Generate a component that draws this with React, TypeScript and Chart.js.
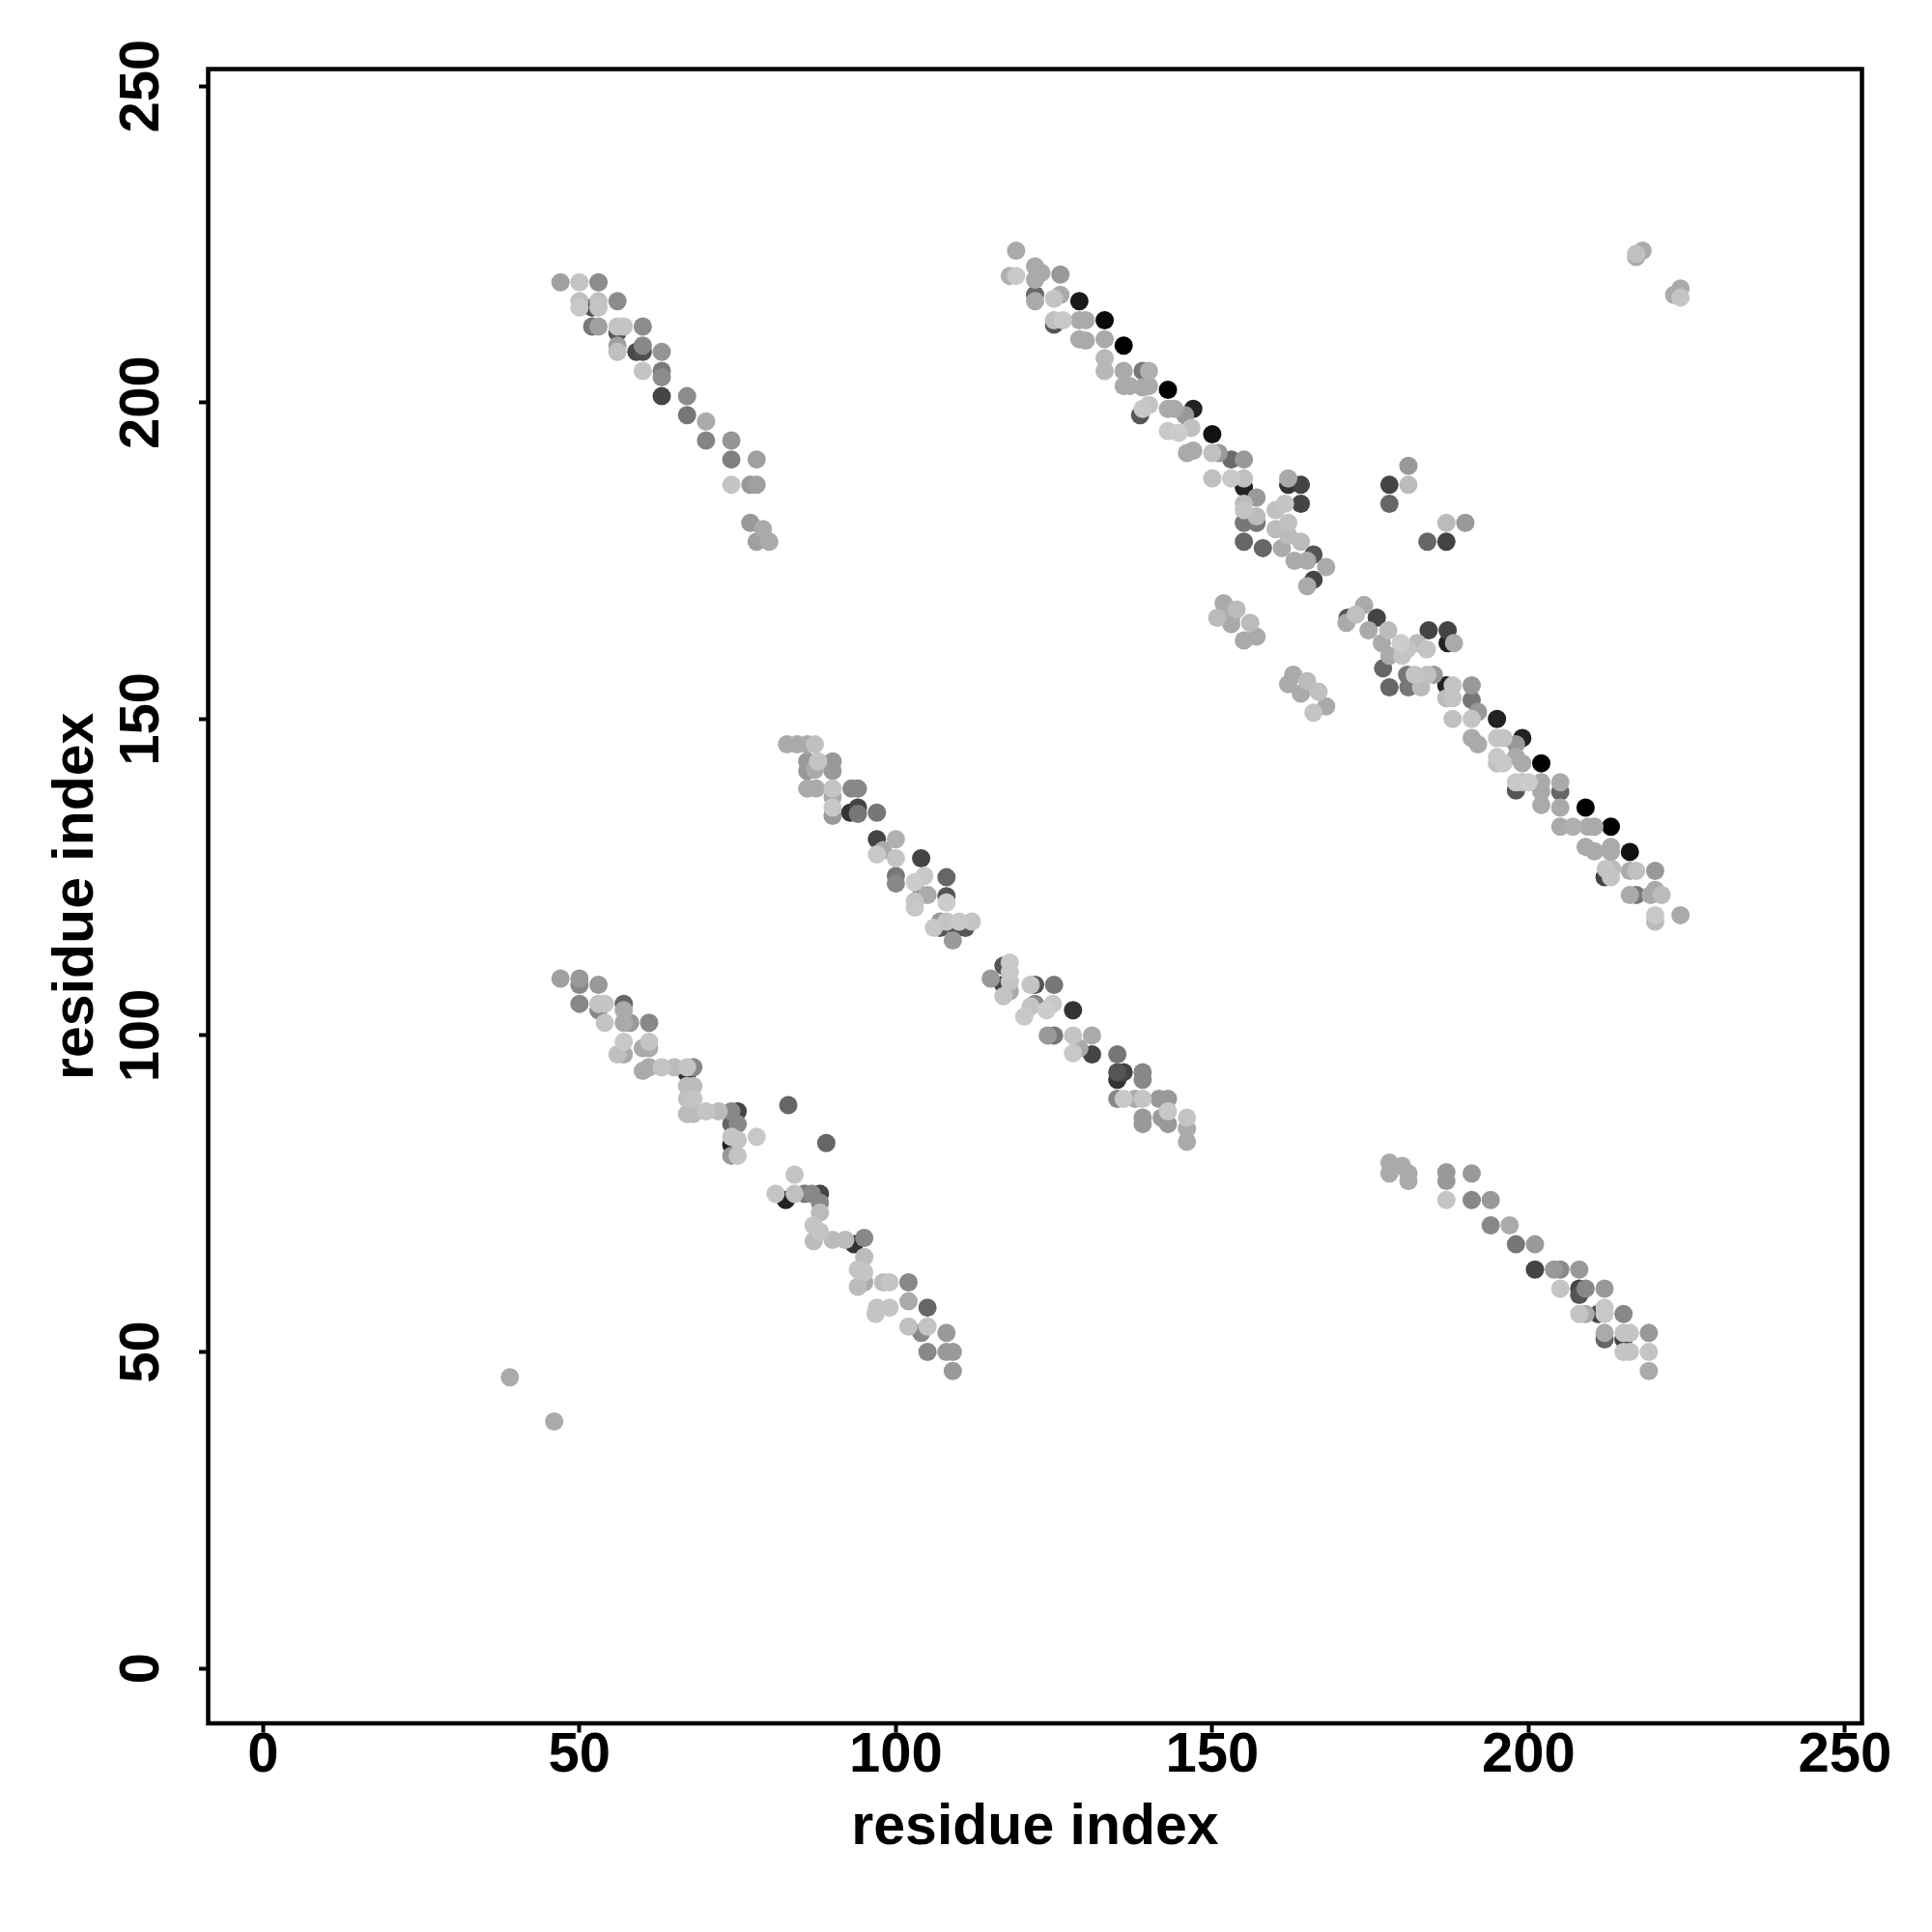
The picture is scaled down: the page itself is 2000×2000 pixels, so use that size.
import React, { useEffect, useRef } from "react";
import { Chart, registerables } from "chart.js";

Chart.register(...registerables);

// Axis ranges (R style, data range 1..243 padded by 4%)
const X_MIN = -8.68;
const X_MAX = 252.68;
const Y_MIN = -8.68;
const Y_MAX = 252.68;
const TICKS = [0, 50, 100, 150, 200, 250];
const X_TITLE = "residue index";
const Y_TITLE = "residue index";

// [x residue, y residue, gray level 0..255]
const upperLeftBand: [number, number, number][] = [
  [47, 219, 160], [50, 219, 196], [53, 219, 140],
  [50, 216, 192], [50, 215, 200], [52, 215, 85], [53, 216, 192], [53, 215, 196],
  [56, 216, 140],
  [52, 212, 119], [53, 212, 160], [56, 212, 196], [57, 212, 196], [60, 212, 140],
  [56, 211, 85], [56, 209, 160], [56, 208, 192],
  [59, 208, 74], [60, 208, 80], [60, 209, 136],
  [63, 208, 149],
  [60, 205, 196], [63, 205, 122], [63, 204, 140],
  [63, 201, 69], [67, 201, 140],
  [67, 198, 119], [70, 197, 170],
  [70, 194, 133], [74, 194, 149],
  [74, 191, 128], [78, 191, 160],
  [74, 187, 196], [77, 187, 153], [78, 187, 160],
  [77, 181, 153], [79, 180, 170], [78, 178, 160], [80, 178, 170],
];

const upperDiagonal: [number, number, number][] = [
  [119, 224, 170],
  [118, 220, 176], [119, 220, 200],
  [122, 221.5, 170], [123, 220.5, 170], [122, 219.4, 170],
  [126, 220.2, 153],
  [122, 217, 106], [122, 216, 170],
  [125, 216.4, 196], [126, 217, 170],
  [129, 216, 26],
  [125, 212.3, 85], [125, 213, 192], [126.4, 213, 200], [129, 213, 170], [130, 213, 170],
  [133, 213, 10],
  [129, 210, 170], [130, 209.8, 170], [133, 210, 170],
  [136, 209, 0],
  [133, 207, 184], [133, 205, 184],
  [136, 205, 170], [139, 205, 119], [140, 205, 176],
  [136, 202.6, 170], [137, 202.6, 170], [139, 202.4, 170], [140, 202.6, 170],
  [143, 202, 0],
  [138.6, 198, 85], [139, 199, 200], [140, 199.6, 196], [143, 199, 170], [144, 199, 170],
  [147, 199, 34],
  [145.7, 198, 153], [143, 195.5, 200], [144.7, 195.2, 204], [146.7, 196, 192],
  [150, 195, 17],
  [146, 192, 170], [147, 192.4, 170], [150, 192, 192], [151, 192, 153], [153, 191, 106], [155, 191, 153],
  [150, 188, 192], [153, 188, 200], [155, 186.6, 34], [155, 188, 192],
  [157, 185, 153],
  [155, 184, 187], [155, 183, 196], [155, 181, 119], [157, 181, 119], [157, 182, 187],
  [155, 178, 102], [158, 177, 102],
  [162, 187, 51], [162, 188, 170], [164, 187, 68], [164, 184, 68],
  [160, 183, 192], [161.5, 184, 196], [160, 180, 187], [162, 181, 192], [161, 177, 170], [164, 178, 187], [162, 179, 187],
  [166, 176, 85], [165, 175, 170], [168, 174, 170], [166, 172, 68], [165, 171, 170], [163, 175, 170],
];

const upperIsolated: [number, number, number][] = [
  [181, 190, 153], [178, 187, 68], [181, 187, 187], [178, 184, 102],
  [187, 181, 187], [190, 181, 153], [184, 178, 102], [187, 178, 68],
  [217, 223.5, 192], [218, 224, 170], [217, 223, 170],
  [223, 217, 170], [224, 218, 170], [224, 216.6, 196],
];

const sideGroups: [number, number, number][] = [
  [151.8, 168.3, 170], [150.8, 166, 187], [153.85, 167.3, 187], [153, 165, 170],
  [156, 165.2, 187], [155, 162.4, 170], [157, 163, 170], [153, 166, 170],
  [162.8, 157, 170], [162, 155.5, 170], [165, 156, 187], [164, 154, 170],
  [166.8, 154.3, 192], [168, 152, 170], [166, 151, 196],
];

const lowerDiagonal: [number, number, number][] = [
  [171.2, 165.2, 170], [171.4, 166, 85], [174, 168, 170], [172.7, 166.5, 192], [176, 166, 68],
  [174.7, 164, 170], [177.8, 164, 187], [176.8, 162, 170], [179.8, 162, 204], [180.8, 161, 196],
  [182.4, 162, 187], [183.9, 161, 196], [184.2, 164, 68], [187.2, 164, 68], [187.2, 162, 34], [188.2, 162, 170],
  [178, 160, 170], [180, 160, 196], [177, 158, 102], [178, 155, 102], [180.8, 157, 119], [181, 155, 119],
  [182, 157, 196], [184, 157, 192], [185, 157, 153], [183, 155, 187],
  [187, 155.3, 34], [188, 155.3, 196], [188, 153.3, 196], [187, 153.3, 187], [191, 155.3, 153],
  [191, 153, 119], [192, 151.1, 153], [188, 150, 192], [191, 150, 196], [195, 150, 34],
  [191, 147, 170], [192, 146, 170], [195, 147, 196], [196, 147, 196], [198, 146, 153], [199, 147, 34],
  [195, 144, 200], [195, 143, 192], [196, 143, 200], [198, 144, 170], [199, 143, 170], [202, 143, 0],
  [198, 140, 200], [198, 138.7, 85], [199, 140, 187], [200, 140, 204], [202, 140, 170], [202, 138.5, 170],
  [205, 140, 170], [205, 138.5, 102], [202, 136.4, 170], [205, 136, 170], [209, 136, 0],
  [205, 133, 170], [207, 133, 176], [209.4, 133, 170], [210.4, 133, 170], [213, 133, 0],
  [209, 129.8, 170], [210.4, 129.1, 170], [213, 129.8, 170], [213, 129, 170], [216, 129, 17],
  [212, 125, 68], [212.2, 126.3, 196], [213.2, 126.3, 187], [213, 125, 196], [216, 126, 170], [217, 126, 192], [220, 126, 153],
  [216, 122.2, 170], [217, 122.2, 119], [219.3, 122.2, 170], [220, 123, 170], [221, 122.2, 187],
  [220, 119, 200], [220, 118, 187], [224, 119, 170],
];

const middleDiagonal: [number, number, number][] = [
  [82.8, 146, 170], [84.4, 146, 170], [86, 146, 170], [87.2, 146, 192],
  [86, 143.3, 153], [86, 141.8, 153], [87.7, 143.3, 196], [87.2, 142, 170], [90, 143.3, 153], [90, 141.8, 153],
  [86, 139, 170], [87.4, 139, 170], [90, 139, 196], [90, 137.7, 170], [93, 139, 136], [94, 139, 136],
  [90, 136, 200], [90, 134.7, 153], [92.8, 135.2, 51], [94, 136, 68], [94, 135, 119], [97, 135.2, 119],
  [97, 131, 68], [100, 131, 176], [97, 128.6, 200], [98, 129.3, 170], [100, 128, 196], [104, 128, 68],
  [100, 125.2, 119], [100, 124, 136], [103, 124.2, 204], [104.5, 125.2, 200], [108, 125, 102],
  [103, 121.2, 196], [104, 122.2, 136], [105, 122.2, 170], [108, 122, 85], [108, 121, 204], [103, 120.2, 200],
  [106, 117, 200], [107, 118, 153], [107, 117, 85], [108, 118, 196], [109.6, 117, 85], [110, 118, 200],
  [111, 117, 85], [112, 118, 196], [109, 115, 153],
  [115, 109, 153], [117, 111, 85], [117, 108, 68], [118, 111.5, 200], [118, 110, 200], [118, 108.5, 196],
  [118, 107, 170], [117, 106.2, 196],
  [121.3, 108, 196], [122, 108, 85], [125, 108, 119], [121.3, 104.6, 196], [122, 105, 136], [120.3, 103, 200],
  [123.8, 104, 204], [124.8, 105, 200], [128, 104, 51],
  [124, 100, 153], [125, 100, 119], [128, 100, 196], [131, 100, 170], [128, 97.2, 200], [129, 98, 170],
  [131, 97, 68], [135, 97, 119], [135, 94.2, 85], [136, 94.2, 68], [135, 93, 51], [139, 94.2, 136], [139, 93, 136],
  [135, 90, 136], [136, 90, 200], [137.8, 90, 170], [139, 90, 196], [139, 87, 153], [139, 86, 153],
  [141.6, 90, 153], [143, 90, 153], [142, 87, 153], [143, 88, 200], [143, 86, 153],
  [146, 87, 196], [146, 85.3, 170], [146, 83.2, 170],
  [83, 89, 102], [89, 83, 102],
];

const lowerLeftBand: [number, number, number][] = [
  [47, 109, 160], [50, 109, 153], [50, 108, 136], [53, 108, 153],
  [50, 105, 136], [53, 105, 196], [54, 105, 196], [53, 104, 136], [57, 105, 102], [57, 104, 170],
  [54, 102, 196], [57, 102, 170], [58, 102, 153], [61, 102, 136],
  [57, 99, 200], [56, 97, 192], [57, 97, 170], [60, 98, 170], [61, 99, 196], [61, 98, 170],
  [60, 94.4, 170], [61, 95, 170], [63, 95, 196], [65, 95, 187], [67, 94, 51], [67, 95, 196], [68, 95, 136],
  [67, 92, 187], [68, 92, 187], [67, 90, 192], [68, 90, 196], [67, 87.6, 187], [68, 87.6, 187],
  [70, 88, 196], [72, 88, 187], [74, 88, 136], [75, 88, 68], [74, 86, 102], [75, 86, 136],
  [74, 82.7, 34], [74, 84, 196], [75, 83.5, 196], [74, 81, 153], [75, 81, 196], [78, 84, 200],
  [84, 78, 196], [81, 75, 196], [82.6, 74, 34], [84, 75, 192], [85.6, 75, 119], [86.7, 75, 136],
  [88, 75, 68], [88, 73.6, 136], [88, 72, 187], [87, 70, 196], [87, 67.5, 187], [88, 69, 196],
  [90, 67.7, 187], [92, 67.7, 187], [93.4, 67, 51], [95, 68, 136], [95, 65, 187],
  [94, 63, 196], [95, 62.6, 196], [94, 60.3, 187], [95, 61, 170], [98, 61, 187], [99, 61, 196],
  [97, 57, 196], [96.8, 56, 196], [99, 57, 196], [102, 61, 136], [102, 58, 170], [105, 57, 102],
  [102, 54, 192], [104, 53, 136], [105, 54, 196], [108, 53, 153],
  [105, 50, 136], [108, 50, 153], [109, 50, 153], [109, 47, 153],
  [39, 46, 170], [46, 39, 170],
];

const lowerRightBand: [number, number, number][] = [
  [178, 79.9, 170], [178, 78.2, 170], [180, 79.4, 170], [181, 78.2, 170], [181, 77, 170],
  [187, 78.4, 153], [187, 77, 153], [191, 78.2, 153],
  [187, 74, 196], [191, 74, 136], [194, 74, 153],
  [194, 70, 136], [197, 70, 170],
  [198, 67, 119], [201, 67, 153],
  [201, 63, 68], [204, 63, 153], [205, 63, 136], [208, 63, 153],
  [205, 60, 196], [208, 60, 68], [208, 59, 85], [209, 60, 136], [212, 60, 153],
  [208, 56, 196], [209, 56, 170], [211, 56, 68], [212, 57, 200], [212, 56, 200], [215, 56, 136],
  [212, 53, 170], [212, 52, 102], [215, 53, 196], [215, 52, 68], [216, 53, 196], [219, 53, 153],
  [215, 50, 196], [216, 50, 196], [219, 50, 196], [219, 47, 170],
];

const FONT_FAMILY = "'Liberation Sans', Arial, Helvetica, sans-serif";

const boxPlugin = {
  id: "plotBox",
  afterDraw(chart: any) {
    const { ctx, chartArea } = chart;
    ctx.save();
    ctx.strokeStyle = "#000";
    ctx.lineWidth = 4.5;
    ctx.strokeRect(
      chartArea.left,
      chartArea.top,
      chartArea.right - chartArea.left,
      chartArea.bottom - chartArea.top
    );
    ctx.restore();
  },
};

export default function App() {
  const ref = useRef<HTMLCanvasElement | null>(null);

  useEffect(() => {
    if (!ref.current) return;
    const all = [
      ...upperLeftBand,
      ...upperDiagonal,
      ...upperIsolated,
      ...sideGroups,
      ...lowerDiagonal,
      ...middleDiagonal,
      ...lowerLeftBand,
      ...lowerRightBand,
    ]
      .map(([x, y, g]) => ({ x, y, g }))
      .sort((a, b) => a.g - b.g);

    const tickFont = { family: FONT_FAMILY, weight: "bold" as const, size: 58, lineHeight: 1 };
    const titleFont = { family: FONT_FAMILY, weight: "bold" as const, size: 59, lineHeight: 1 };

    const chart = new Chart(ref.current, {
      type: "scatter",
      data: {
        datasets: [
          {
            data: all.map((p) => ({ x: p.x, y: p.y })),
            pointRadius: 9.5,
            pointHoverRadius: 9.5,
            pointBorderWidth: 0,
            borderWidth: 0,
            pointBackgroundColor: all.map((p) => `rgb(${p.g},${p.g},${p.g})`),
            showLine: false,
          },
        ],
      },
      options: {
        responsive: false,
        animation: false,
        devicePixelRatio: 1,
        events: [],
        layout: { padding: { top: 71.5, right: 72.5, left: 0, bottom: 0 } },
        plugins: {
          legend: { display: false },
          tooltip: { enabled: false },
        },
        scales: {
          x: {
            type: "linear",
            position: "bottom",
            min: X_MIN,
            max: X_MAX,
            afterFit: (s: any) => {
              s.height = 216;
            },
            afterBuildTicks: (s: any) => {
              s.ticks = TICKS.map((v) => ({ value: v }));
            },
            grid: {
              drawOnChartArea: false,
              drawTicks: true,
              tickLength: 9.5,
              tickWidth: 4,
              tickColor: "#000",
            },
            border: { display: false },
            ticks: {
              font: tickFont,
              color: "#000",
              padding: -4.2,
              maxRotation: 0,
              minRotation: 0,
              autoSkip: false,
            },
            title: {
              display: true,
              text: X_TITLE,
              font: titleFont,
              color: "#000",
              padding: { top: 0, bottom: 78 },
            },
          },
          y: {
            type: "linear",
            position: "left",
            min: Y_MIN,
            max: Y_MAX,
            afterFit: (s: any) => {
              s.width = 215.5;
            },
            afterBuildTicks: (s: any) => {
              s.ticks = TICKS.map((v) => ({ value: v }));
            },
            grid: {
              drawOnChartArea: false,
              drawTicks: true,
              tickLength: 9.5,
              tickWidth: 4,
              tickColor: "#000",
            },
            border: { display: false },
            ticks: {
              font: tickFont,
              color: "#000",
              padding: 9.3,
              minRotation: 90,
              maxRotation: 90,
              crossAlign: "center",
              autoSkip: false,
            },
            title: {
              display: true,
              text: Y_TITLE,
              font: titleFont,
              color: "#000",
              padding: { top: 50.5, bottom: 0 },
            },
          },
        },
      },
      plugins: [boxPlugin],
    });

    return () => chart.destroy();
  }, []);

  return (
    <div
      style={{
        position: "absolute",
        left: 0,
        top: 0,
        width: 2000,
        height: 2000,
        background: "#fff",
      }}
    >
      <canvas ref={ref} width={2000} height={2000} style={{ display: "block" }} />
    </div>
  );
}
